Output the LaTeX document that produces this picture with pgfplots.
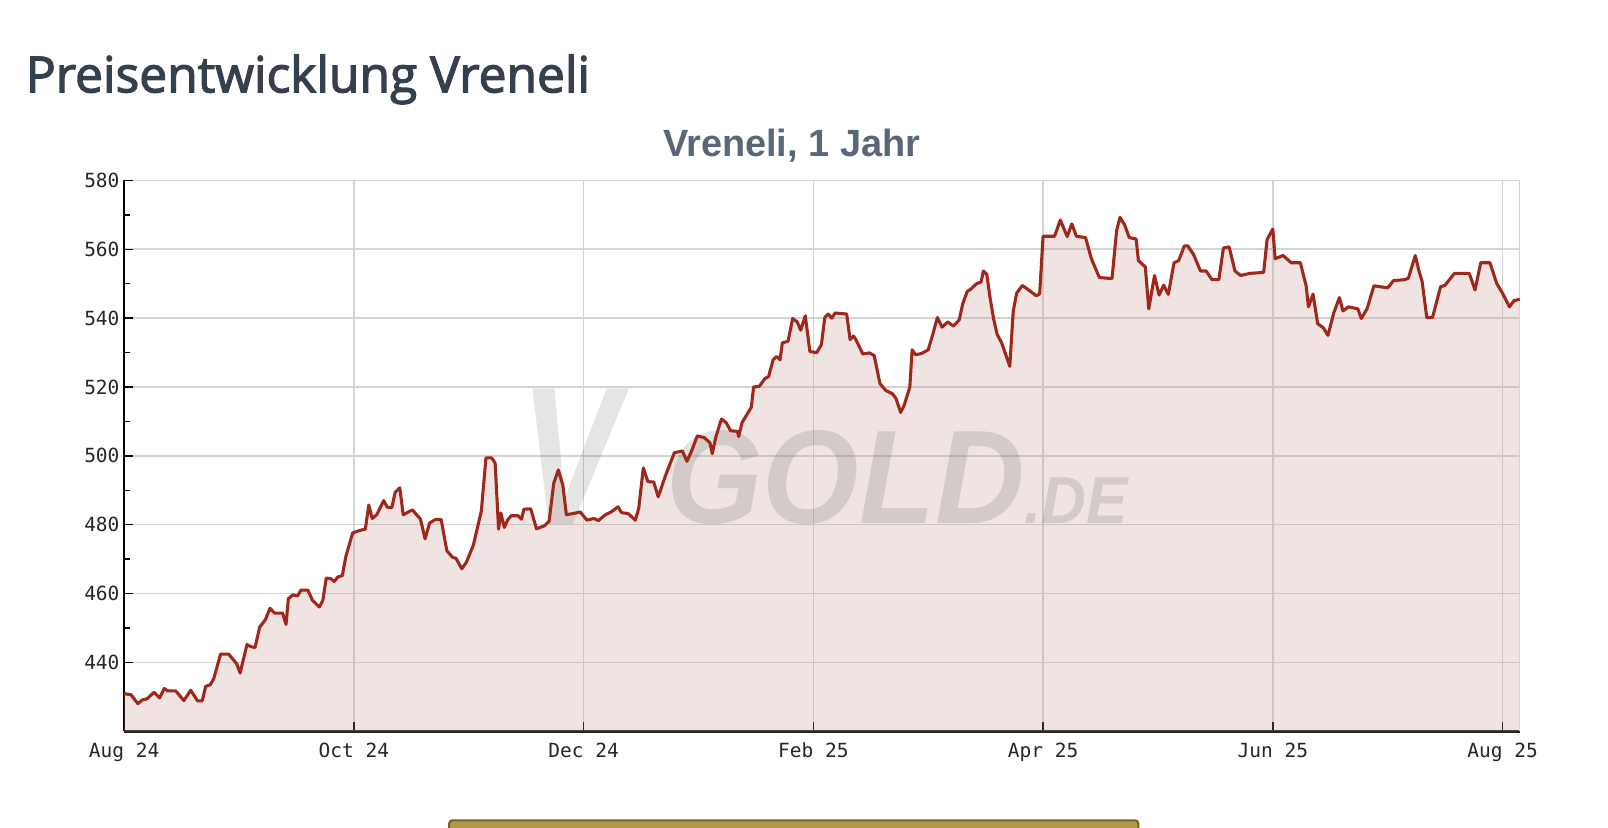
\documentclass[border=0pt]{standalone}
\usepackage{pgfplots}
\pgfplotsset{compat=1.18}
\usepackage{pgfplotstable}
\usepackage{fontspec}
\setmainfont{Liberation Sans}
\newfontfamily\titlefont{Open Sans}[FakeBold=2.5]
\newfontfamily\monofont{DejaVu Sans Mono}
\definecolor{linec}{RGB}{160,40,26}
\definecolor{fillc}{RGB}{199,151,147}
\definecolor{gridc}{RGB}{212,212,212}
\definecolor{titlec}{RGB}{52,64,78}
\definecolor{subc}{RGB}{88,104,122}
\definecolor{barfill}{RGB}{178,152,72}
\definecolor{bardraw}{RGB}{118,98,40}
\pgfplotstableread{
m v
0.00 431
0.02 430.8
0.06 430.6
0.12 428.0
0.16 429.1
0.20 429.4
0.26 431.3
0.31 429.7
0.35 432.4
0.38 431.7
0.45 431.7
0.52 428.9
0.58 431.9
0.64 428.8
0.68 428.8
0.71 433
0.75 433.5
0.78 435.2
0.84 442.4
0.91 442.4
0.98 439.6
1.01 436.9
1.07 445.2
1.10 444.6
1.14 444.3
1.18 450.2
1.23 452.4
1.27 455.7
1.31 454.3
1.38 454.3
1.41 451
1.43 458.5
1.47 459.6
1.51 459.3
1.54 461
1.60 461
1.64 458
1.70 456.1
1.73 458
1.76 464.5
1.80 464.3
1.83 463.5
1.86 464.8
1.90 465.2
1.93 470.7
1.99 477.6
2.05 478.3
2.10 478.7
2.13 485.7
2.16 481.8
2.20 482.9
2.26 487
2.29 485.1
2.33 484.9
2.36 489.4
2.40 490.7
2.43 482.9
2.51 484.3
2.58 481.6
2.62 475.9
2.66 480.5
2.71 481.5
2.76 481.5
2.81 472.4
2.86 470.5
2.89 470.2
2.94 467.2
2.98 469.1
3.04 474
3.11 484
3.15 499.4
3.20 499.4
3.23 497.9
3.26 478.7
3.28 483.4
3.31 479.2
3.34 481.4
3.37 482.6
3.43 482.6
3.46 481.6
3.48 484.5
3.54 484.6
3.59 478.8
3.66 479.7
3.70 481
3.74 492
3.78 495.9
3.82 491.4
3.85 482.9
3.92 483.3
3.97 483.7
4.03 481.3
4.09 481.8
4.13 481.2
4.19 482.9
4.24 483.7
4.30 485.2
4.33 483.5
4.39 483.2
4.45 481.3
4.48 484.7
4.52 496.5
4.56 492.5
4.61 492.4
4.65 488.1
4.71 494
4.79 500.9
4.86 501.4
4.90 498.4
4.94 501.4
4.99 505.8
5.05 505.3
5.10 503.8
5.12 500.6
5.15 505.3
5.20 510.7
5.24 509.7
5.28 507.3
5.34 507.1
5.35 505.6
5.38 509.7
5.46 514.1
5.48 520
5.53 520.2
5.58 522.5
5.61 523
5.65 527.9
5.68 528.9
5.71 527.9
5.73 532.8
5.78 533.3
5.82 539.9
5.86 538.9
5.89 536.5
5.93 540.7
5.97 530.3
6.03 530
6.07 532.3
6.10 540.2
6.13 541.2
6.16 540
6.19 541.5
6.29 541.2
6.32 533.8
6.35 534.8
6.37 533.8
6.43 529.6
6.49 529.9
6.53 529.1
6.58 521
6.63 519
6.69 518
6.72 516.6
6.76 512.6
6.79 514.6
6.84 520
6.86 530.8
6.89 529.4
6.94 529.7
7.00 530.8
7.04 535.3
7.08 540.2
7.12 537.4
7.17 538.9
7.22 537.7
7.27 539.5
7.30 544.1
7.34 547.8
7.37 548.4
7.42 550
7.46 550.5
7.48 553.7
7.51 552.7
7.54 545.6
7.57 539.7
7.60 535.3
7.64 532.8
7.71 526
7.74 542
7.77 547.3
7.82 549.5
7.89 547.8
7.94 546.5
7.97 547
8.00 563.8
8.10 563.8
8.15 568.5
8.21 563.7
8.25 567.4
8.29 563.8
8.37 563.4
8.42 557.3
8.49 551.8
8.60 551.5
8.64 565.5
8.67 569.3
8.71 567.1
8.75 563.4
8.81 563
8.83 556.7
8.89 554.9
8.92 542.7
8.97 552.4
9.01 546.7
9.05 549.6
9.09 546.9
9.14 556.1
9.18 556.7
9.23 561
9.26 561
9.31 558.5
9.37 553.7
9.42 553.7
9.47 551.2
9.53 551.2
9.57 560.4
9.62 560.7
9.67 553.7
9.72 552.4
9.80 553
9.92 553.3
9.95 562.8
10.00 565.9
10.02 557.3
10.09 558.2
10.16 556.1
10.24 556.1
10.29 549.4
10.31 543.3
10.35 547
10.39 538.4
10.44 537.2
10.48 535
10.53 541.5
10.58 546
10.61 542.1
10.66 543.3
10.74 542.7
10.77 539.9
10.82 542.7
10.88 549.4
11.00 548.8
11.05 550.9
11.15 551.2
11.18 551.6
11.24 558.2
11.27 554
11.30 550.6
11.34 540.2
11.39 540.2
11.46 549.1
11.50 549.6
11.58 553
11.71 553
11.76 548.2
11.81 556.1
11.89 556.1
11.95 550
12.00 547.2
12.06 543.3
12.10 545.1
12.15 545.5
}\vreneli

\begin{document}
\begin{tikzpicture}
\fill[white] (0,0) rectangle (1568bp,807.4bp);
% page title
\node[anchor=base west, inner sep=0pt, text=titlec] at (25bp,717.4bp)
  {\titlefont\fontsize{48.5bp}{58bp}\selectfont Preisentwicklung Vreneli};
% chart title
\node[anchor=base, inner sep=0pt, text=subc] at (772bp,654.4bp)
  {\bfseries\fontsize{37bp}{44bp}\selectfont Vreneli, 1 Jahr};
\begin{axis}[
  at={(121bp,94.4bp)}, anchor=south west,
  scale only axis, width=1361bp, height=537bp,
  xmin=0, xmax=12.15, ymin=420, ymax=580,
  enlargelimits=false,
  axis lines=left,
  axis line style={-},
  x axis line style={line width=3bp, black!85},
  y axis line style={line width=1.5bp, black},
  xtick={0,2,4,6,8,10,12},
  xticklabels={Aug 24,Oct 24,Dec 24,Feb 25,Apr 25,Jun 25,Aug 25},
  ytick={440,460,480,500,520,540,560,580},
  yticklabels={440,460,480,500,520,540,560,580},
  minor y tick num=1,
  tick align=inside,
  major tick length=9bp, minor tick length=6bp,
  tick style={black, line width=1.3bp},
  xmajorgrids, ymajorgrids,
  major grid style={gridc, line width=1.6bp},
  ticklabel style={font=\monofont\fontsize{19bp}{19bp}\selectfont, text=black!85},
  yticklabel style={xshift=-1bp},
  xticklabel style={yshift=-8bp},
  clip=true,
]
\addplot[draw=none, fill=fillc, fill opacity=0.25] table[x=m,y=v] {\vreneli} \closedcycle;
\node[anchor=base west, inner sep=0pt, text=black, opacity=0.10, xscale=0.75] at (axis cs:3.45,480)
  {\bfseries\itshape\fontsize{192bp}{192bp}\selectfont V};
\node[anchor=base west, inner sep=0pt, text=black, opacity=0.11, xscale=0.93] at (axis cs:4.72,480.3)
  {\bfseries\itshape\fontsize{130bp}{130bp}\selectfont GOLD\fontsize{65bp}{65bp}\selectfont.DE};
\draw[gridc, line width=1.6bp] (rel axis cs:1,0) -- (rel axis cs:1,1);
\addplot[linec, line width=3bp, line join=round] table[x=m,y=v] {\vreneli};
\end{axis}
% page button at the bottom
\begin{scope}
\clip (0,0) rectangle (1568bp,807.4bp);
\draw[fill=barfill, draw=bardraw, line width=2bp, rounded corners=3bp] (438bp,-20bp) rectangle (1110bp,7.4bp);
\end{scope}
\pgfresetboundingbox
\path[use as bounding box] (0,0) rectangle (1568bp,807.4bp);
\end{tikzpicture}
\end{document}
